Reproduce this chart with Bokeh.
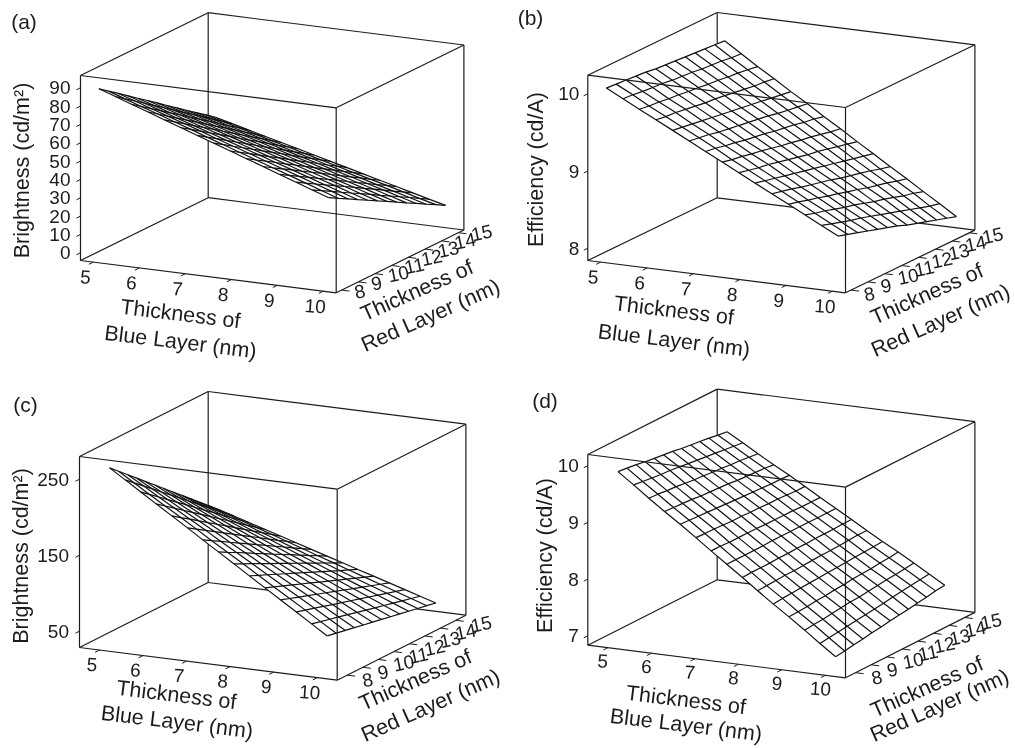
import math
from bokeh.plotting import figure
from bokeh.embed import file_html
from bokeh.resources import INLINE
from bokeh.core.properties import value

# ---------------- data ----------------
blue_nm = [5, 5.36, 5.71, 6.07, 6.43, 6.79, 7.14, 7.5, 7.86, 8.21, 8.57, 8.93, 9.29, 9.64, 10]
red_nm = [8, 8.58, 9.17, 9.75, 10.33, 10.92, 11.5, 12.08, 12.67, 13.25, 13.83, 14.42, 15]
blue_ticks = [5, 6, 7, 8, 9, 10]
red_ticks = [8, 9, 10, 11, 12, 13, 14, 15]
brightness_ticks_a = [0, 10, 20, 30, 40, 50, 60, 70, 80, 90]
efficiency_ticks_b = [8, 9, 10]
brightness_ticks_c = [50, 150, 250]
efficiency_ticks_d = [7, 8, 9, 10]

brightness_a = [
    [88.9, 85.8, 82.7, 79.6, 76.4, 73.3, 70.2, 67.1, 64.0, 60.9, 57.8, 54.6, 51.5, 48.4, 45.3],
    [85.0, 81.9, 78.9, 75.9, 72.8, 69.8, 66.7, 63.7, 60.6, 57.6, 54.5, 51.5, 48.4, 45.4, 42.3],
    [81.1, 78.1, 75.1, 72.1, 69.2, 66.2, 63.2, 60.2, 57.3, 54.3, 51.3, 48.3, 45.3, 42.4, 39.4],
    [77.2, 74.3, 71.4, 68.4, 65.5, 62.6, 59.7, 56.8, 53.9, 51.0, 48.1, 45.2, 42.2, 39.3, 36.4],
    [73.3, 70.4, 67.6, 64.7, 61.9, 59.1, 56.2, 53.4, 50.5, 47.7, 44.8, 42.0, 39.2, 36.3, 33.5],
    [69.4, 66.6, 63.8, 61.0, 58.3, 55.5, 52.7, 49.9, 47.2, 44.4, 41.6, 38.8, 36.1, 33.3, 30.5],
    [65.5, 62.7, 60.0, 57.3, 54.6, 51.9, 49.2, 46.5, 43.8, 41.1, 38.4, 35.7, 33.0, 30.3, 27.6],
    [61.5, 58.9, 56.3, 53.6, 51.0, 48.3, 45.7, 43.1, 40.4, 37.8, 35.2, 32.5, 29.9, 27.2, 24.6],
    [57.6, 55.1, 52.5, 49.9, 47.3, 44.8, 42.2, 39.6, 37.1, 34.5, 31.9, 29.3, 26.8, 24.2, 21.6],
    [53.7, 51.2, 48.7, 46.2, 43.7, 41.2, 38.7, 36.2, 33.7, 31.2, 28.7, 26.2, 23.7, 21.2, 18.7],
    [49.8, 47.4, 44.9, 42.5, 40.1, 37.6, 35.2, 32.8, 30.3, 27.9, 25.5, 23.0, 20.6, 18.2, 15.7],
    [45.9, 43.5, 41.2, 38.8, 36.4, 34.1, 31.7, 29.3, 27.0, 24.6, 22.2, 19.9, 17.5, 15.1, 12.8],
    [42.0, 39.7, 37.4, 35.1, 32.8, 30.5, 28.2, 25.9, 23.6, 21.3, 19.0, 16.7, 14.4, 12.1, 9.8],
]
efficiency_b = [
    [10.06, 9.95, 9.84, 9.73, 9.62, 9.51, 9.40, 9.29, 9.18, 9.07, 8.96, 8.85, 8.74, 8.63, 8.52],
    [10.05, 9.94, 9.82, 9.71, 9.60, 9.49, 9.38, 9.26, 9.15, 9.04, 8.93, 8.82, 8.70, 8.59, 8.48],
    [10.04, 9.92, 9.81, 9.70, 9.58, 9.47, 9.35, 9.24, 9.12, 9.01, 8.90, 8.78, 8.67, 8.55, 8.44],
    [10.03, 9.91, 9.79, 9.68, 9.56, 9.44, 9.33, 9.21, 9.10, 8.98, 8.86, 8.75, 8.63, 8.51, 8.40],
    [10.02, 9.90, 9.78, 9.66, 9.54, 9.42, 9.30, 9.19, 9.07, 8.95, 8.83, 8.71, 8.59, 8.48, 8.36],
    [10.00, 9.88, 9.76, 9.64, 9.52, 9.40, 9.28, 9.16, 9.04, 8.92, 8.80, 8.68, 8.56, 8.44, 8.32],
    [9.99, 9.87, 9.75, 9.63, 9.50, 9.38, 9.26, 9.13, 9.01, 8.89, 8.77, 8.64, 8.52, 8.40, 8.28],
    [9.98, 9.86, 9.73, 9.61, 9.48, 9.36, 9.23, 9.11, 8.98, 8.86, 8.73, 8.61, 8.48, 8.36, 8.23],
    [9.97, 9.84, 9.72, 9.59, 9.46, 9.34, 9.21, 9.08, 8.96, 8.83, 8.70, 8.57, 8.45, 8.32, 8.19],
    [9.96, 9.83, 9.70, 9.57, 9.44, 9.31, 9.19, 9.06, 8.93, 8.80, 8.67, 8.54, 8.41, 8.28, 8.15],
    [9.95, 9.82, 9.69, 9.55, 9.42, 9.29, 9.16, 9.03, 8.90, 8.77, 8.64, 8.51, 8.37, 8.24, 8.11],
    [9.94, 9.80, 9.67, 9.54, 9.40, 9.27, 9.14, 9.00, 8.87, 8.74, 8.60, 8.47, 8.34, 8.20, 8.07],
    [9.93, 9.79, 9.65, 9.52, 9.38, 9.25, 9.11, 8.98, 8.84, 8.71, 8.57, 8.44, 8.30, 8.17, 8.03],
]
brightness_c = [
    [261.6, 248.4, 235.2, 222.0, 208.8, 195.6, 182.4, 169.2, 156.0, 142.8, 129.6, 116.4, 103.2, 90.0, 76.8],
    [251.1, 238.4, 225.8, 213.2, 200.6, 188.0, 175.3, 162.7, 150.1, 137.5, 124.9, 112.3, 99.6, 87.0, 74.4],
    [240.5, 228.5, 216.4, 204.4, 192.4, 180.3, 168.3, 156.3, 144.2, 132.2, 120.1, 108.1, 96.1, 84.0, 72.0],
    [230.0, 218.5, 207.0, 195.6, 184.1, 172.7, 161.2, 149.8, 138.3, 126.9, 115.4, 104.0, 92.5, 81.1, 69.6],
    [219.4, 208.5, 197.7, 186.8, 175.9, 165.0, 154.2, 143.3, 132.4, 121.6, 110.7, 99.8, 88.9, 78.1, 67.2],
    [208.9, 198.6, 188.3, 178.0, 167.7, 157.4, 147.1, 136.8, 126.5, 116.3, 106.0, 95.7, 85.4, 75.1, 64.8],
    [198.3, 188.6, 178.9, 169.2, 159.5, 149.8, 140.0, 130.3, 120.6, 110.9, 101.2, 91.5, 81.8, 72.1, 62.4],
    [187.8, 178.6, 169.5, 160.4, 151.3, 142.1, 133.0, 123.9, 114.8, 105.6, 96.5, 87.4, 78.3, 69.1, 60.0],
    [177.2, 168.7, 160.1, 151.6, 143.0, 134.5, 125.9, 117.4, 108.9, 100.3, 91.8, 83.2, 74.7, 66.1, 57.6],
    [166.7, 158.7, 150.7, 142.8, 134.8, 126.8, 118.9, 110.9, 103.0, 95.0, 87.0, 79.1, 71.1, 63.2, 55.2],
    [156.1, 148.7, 141.3, 134.0, 126.6, 119.2, 111.8, 104.4, 97.1, 89.7, 82.3, 74.9, 67.6, 60.2, 52.8],
    [145.6, 138.8, 132.0, 125.2, 118.4, 111.6, 104.8, 98.0, 91.2, 84.4, 77.6, 70.8, 64.0, 57.2, 50.4],
    [135.0, 128.8, 122.6, 116.4, 110.1, 103.9, 97.7, 91.5, 85.3, 79.1, 72.9, 66.7, 60.4, 54.2, 48.0],
]
efficiency_d = [
    [9.85, 9.65, 9.45, 9.25, 9.06, 8.86, 8.66, 8.46, 8.26, 8.06, 7.86, 7.67, 7.47, 7.27, 7.07],
    [9.83, 9.63, 9.44, 9.24, 9.05, 8.85, 8.66, 8.46, 8.27, 8.07, 7.88, 7.68, 7.49, 7.29, 7.09],
    [9.81, 9.61, 9.42, 9.23, 9.04, 8.85, 8.65, 8.46, 8.27, 8.08, 7.89, 7.69, 7.50, 7.31, 7.12],
    [9.78, 9.59, 9.41, 9.22, 9.03, 8.84, 8.65, 8.46, 8.27, 8.09, 7.90, 7.71, 7.52, 7.33, 7.14],
    [9.76, 9.58, 9.39, 9.20, 9.02, 8.83, 8.65, 8.46, 8.28, 8.09, 7.91, 7.72, 7.54, 7.35, 7.17],
    [9.74, 9.56, 9.37, 9.19, 9.01, 8.83, 8.65, 8.47, 8.28, 8.10, 7.92, 7.74, 7.56, 7.37, 7.19],
    [9.72, 9.54, 9.36, 9.18, 9.00, 8.82, 8.64, 8.47, 8.29, 8.11, 7.93, 7.75, 7.57, 7.39, 7.22],
    [9.69, 9.52, 9.34, 9.17, 8.99, 8.82, 8.64, 8.47, 8.29, 8.12, 7.94, 7.77, 7.59, 7.41, 7.24],
    [9.67, 9.50, 9.33, 9.15, 8.98, 8.81, 8.64, 8.47, 8.30, 8.12, 7.95, 7.78, 7.61, 7.44, 7.26],
    [9.65, 9.48, 9.31, 9.14, 8.97, 8.81, 8.64, 8.47, 8.30, 8.13, 7.96, 7.79, 7.63, 7.46, 7.29],
    [9.63, 9.46, 9.30, 9.13, 8.96, 8.80, 8.63, 8.47, 8.30, 8.14, 7.97, 7.81, 7.64, 7.48, 7.31],
    [9.60, 9.44, 9.28, 9.12, 8.96, 8.79, 8.63, 8.47, 8.31, 8.15, 7.98, 7.82, 7.66, 7.50, 7.34],
    [9.58, 9.42, 9.26, 9.10, 8.95, 8.79, 8.63, 8.47, 8.31, 8.15, 7.99, 7.84, 7.68, 7.52, 7.36],
]

# ---------------- panel layout (page pixels) ----------------
panels = [
    dict(tag="(a)", tag_at=(23.5, 20.5), values=brightness_a, zticks=brightness_ticks_a,
         zlabel="Brightness (cd/m²)", zlabel_at=(21.5, 170),
         origin=(80, 260), u=(255.7, 32.3), v=(127.7, -62.8), h=185,
         xlim=(4.72, 10.28), ylim=(7.67, 15.33), zlim=(-4.2, 96.7),
         blue_off=(-8, 15), red_off=(13, 2.5), z_off=-10,
         blue_lab=[(180, 313.5), (180, 341.5)], red_lab=[(416.5, 290), (430, 315)]),
    dict(tag="(b)", tag_at=(530, 16.5), values=efficiency_b, zticks=efficiency_ticks_b,
         zlabel="Efficiency (cd/A)", zlabel_at=(535, 169),
         origin=(587.3, 260), u=(257.7, 32.3), v=(129.4, -62.7), h=185.3,
         xlim=(4.72, 10.28), ylim=(7.67, 15.33), zlim=(7.841, 10.241),
         blue_off=(-7.5, 15), red_off=(13, 5), z_off=-8.5,
         blue_lab=[(673.5, 310), (673.5, 340)], red_lab=[(926.5, 293.5), (940, 320)]),
    dict(tag="(c)", tag_at=(25, 404), values=brightness_c, zticks=brightness_ticks_c,
         zlabel="Brightness (cd/m²)", zlabel_at=(20.5, 555.5),
         origin=(79, 647), u=(257.7, 32.7), v=(128.7, -65), h=191,
         xlim=(4.54, 10.46), ylim=(7.35, 15.65), zlim=(28.55, 279.9),
         blue_off=(-7.5, 14.5), red_off=(15, 6), z_off=-10.5,
         blue_lab=[(176, 694.5), (176.5, 721.5)], red_lab=[(415, 679.5), (430, 705)]),
    dict(tag="(d)", tag_at=(544.5, 399.5), values=efficiency_d, zticks=efficiency_ticks_d,
         zlabel="Efficiency (cd/A)", zlabel_at=(544, 555),
         origin=(587.3, 644.7), u=(257.7, 32.6), v=(129.4, -65.4), h=190.7,
         xlim=(4.54, 10.46), ylim=(7.35, 15.65), zlim=(6.834, 10.197),
         blue_off=(-5, 13.5), red_off=(16, 6), z_off=-9,
         blue_lab=[(685.5, 699.5), (685.5, 724.5)], red_lab=[(926.5, 686.5), (939, 705)]),
]

INK = "#1c1c1c"
FONT = value("Liberation Sans")
TICK_PX = "19px"
LABEL_PX = "21.5px"
TAG_PX = "21px"

p = figure(width=1015, height=748, x_range=(0, 1015), y_range=(748, 0),
           toolbar_location=None, output_backend="svg", min_border=0,
           styles={"position": "fixed", "left": "0", "top": "0"})
p.xaxis.visible = False
p.yaxis.visible = False
p.xgrid.visible = False
p.ygrid.visible = False
p.outline_line_color = None
p.background_fill_color = "white"


def project(pn):
    ox, oy = pn["origin"]
    ux, uy = pn["u"]
    vx, vy = pn["v"]
    xa, xb = pn["xlim"]
    ya, yb = pn["ylim"]
    za, zb = pn["zlim"]

    def f(b, r, z):
        fb = (b - xa) / (xb - xa)
        fr = (r - ya) / (yb - ya)
        fz = (z - za) / (zb - za)
        return ox + fb * ux + fr * vx, oy + fb * uy + fr * vy - fz * pn["h"]
    return f


for pn in panels:
    P = project(pn)
    xa, xb = pn["xlim"]
    ya, yb = pn["ylim"]
    za, zb = pn["zlim"]
    corner = {k: P(b, r, z) for k, (b, r, z) in {
        "flb": (xa, ya, za), "frb": (xb, ya, za), "brb": (xb, yb, za), "blb": (xa, yb, za),
        "flt": (xa, ya, zb), "frt": (xb, ya, zb), "brt": (xb, yb, zb), "blt": (xa, yb, zb),
    }.items()}

    def segs(pairs):
        return ([[corner[a][0], corner[b][0]] for a, b in pairs],
                [[corner[a][1], corner[b][1]] for a, b in pairs])

    # edges behind the surface
    xs, ys = segs([("blb", "blt"), ("blb", "flb"), ("blb", "brb"), ("blt", "flt"), ("blt", "brt")])
    p.multi_line(xs, ys, line_color=INK, line_width=1.2)

    # surface: one white sheet (its outline runs along the grid), then the grid lines
    Z = pn["values"]
    nr, nb = len(red_nm), len(blue_nm)
    rim = ([P(blue_nm[i], red_nm[0], Z[0][i]) for i in range(nb)]
           + [P(blue_nm[-1], red_nm[j], Z[j][-1]) for j in range(1, nr)]
           + [P(blue_nm[i], red_nm[-1], Z[-1][i]) for i in range(nb - 2, -1, -1)]
           + [P(blue_nm[0], red_nm[j], Z[j][0]) for j in range(nr - 2, 0, -1)])
    p.patch([q[0] for q in rim], [q[1] for q in rim], fill_color="white", line_color=None)

    gx, gy = [], []
    for j in range(nr):
        pts = [P(blue_nm[i], red_nm[j], Z[j][i]) for i in range(nb)]
        gx.append([q[0] for q in pts])
        gy.append([q[1] for q in pts])
    for i in range(nb):
        pts = [P(blue_nm[i], red_nm[j], Z[j][i]) for j in range(nr)]
        gx.append([q[0] for q in pts])
        gy.append([q[1] for q in pts])
    p.multi_line(gx, gy, line_color="#111111", line_width=1.2)

    # edges in front of the surface
    xs, ys = segs([("flb", "flt"), ("frb", "frt"), ("brb", "brt"), ("flt", "frt"),
                   ("frt", "brt"), ("flb", "frb"), ("frb", "brb")])
    p.multi_line(xs, ys, line_color=INK, line_width=1.2)

    # ticks and their labels
    txs, tys = [], []
    vlen = math.hypot(*pn["v"])
    ulen = math.hypot(*pn["u"])
    vdir = (pn["v"][0] / vlen, pn["v"][1] / vlen)
    udir = (pn["u"][0] / ulen, pn["u"][1] / ulen)

    lx, ly, lt = [], [], []
    for b in blue_ticks:
        ex, ey = P(b, ya, za)
        txs.append([ex, ex - 5 * vdir[0]])
        tys.append([ey, ey - 5 * vdir[1]])
        lx.append(ex + pn["blue_off"][0])
        ly.append(ey + pn["blue_off"][1])
        lt.append(str(b))
    p.text(lx, ly, lt, angle=math.radians(-4), text_align="center", text_baseline="middle",
           text_font=FONT, text_font_size=TICK_PX, text_color=INK)

    lx, ly, lt = [], [], []
    for r in red_ticks:
        ex, ey = P(xb, r, za)
        txs.append([ex, ex + 8 * udir[0]])
        tys.append([ey, ey + 8 * udir[1]])
        lx.append(ex + pn["red_off"][0])
        ly.append(ey + pn["red_off"][1])
        lt.append(str(r))
    p.text(lx, ly, lt, angle=math.radians(12), text_align="left", text_baseline="middle",
           text_font=FONT, text_font_size=TICK_PX, text_color=INK)

    lx, ly, lt = [], [], []
    for z in pn["zticks"]:
        ex, ey = P(xa, ya, z)
        txs.append([ex, ex - 4.5 * vdir[0]])
        tys.append([ey, ey - 4.5 * vdir[1]])
        lx.append(ex + pn["z_off"])
        ly.append(ey)
        lt.append(str(z))
    p.text(lx, ly, lt, text_align="right", text_baseline="middle",
           text_font=FONT, text_font_size=TICK_PX, text_color=INK)
    p.multi_line(txs, tys, line_color=INK, line_width=1.0)

    # axis titles and panel tag
    p.text([pn["zlabel_at"][0]], [pn["zlabel_at"][1]], [pn["zlabel"]], angle=math.pi / 2,
           text_align="center", text_baseline="middle", text_font=FONT,
           text_font_size=LABEL_PX, text_color=INK)
    p.text([q[0] for q in pn["blue_lab"]], [q[1] for q in pn["blue_lab"]],
           ["Thickness of", "Blue Layer (nm)"], angle=math.radians(-7),
           text_align="center", text_baseline="middle", text_font=FONT,
           text_font_size=LABEL_PX, text_color=INK)
    p.text([q[0] for q in pn["red_lab"]], [q[1] for q in pn["red_lab"]],
           ["Thickness of", "Red Layer (nm)"], angle=math.radians(24),
           text_align="center", text_baseline="middle", text_font=FONT,
           text_font_size=LABEL_PX, text_color=INK)
    p.text([pn["tag_at"][0]], [pn["tag_at"][1]], [pn["tag"]], text_align="center",
           text_baseline="middle", text_font=FONT, text_font_size=TAG_PX, text_color=INK)

open("out.html", "w").write(file_html(p, INLINE))
